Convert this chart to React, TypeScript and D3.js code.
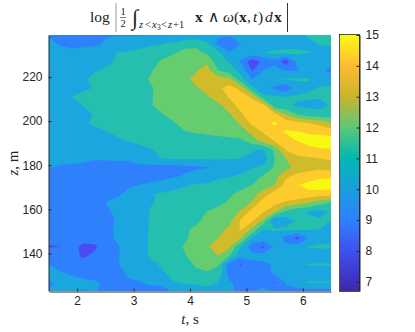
import React, { useRef, useEffect } from 'react';
import * as d3 from 'd3';

// grid of log values, one row per z (top row z = 239, step 4), one column per t (1.5 to 6.5, step 0.2)
const tStart = 1.5;
const tStep = 0.2;
const zStart = 239;
const zStep = 4;
const logMoment = [
  [9.95,9.9,9.9,9.9,9.9,9.95,9.95,9.95,9.95,9.95,9.95,9.95,10.0,10.2,10.3,10.2,10.2,10.3,10.4,10.5,10.5,10.6,10.8,11.1,11.2,11.2],
  [10.2,9.9,9.7,9.7,9.8,10.1,10.3,10.4,10.6,10.8,10.95,11.2,11.7,11.8,11.2,9.7,8.9,10,10.4,10.5,10.5,10.7,10.7,10.8,11.05,11.1],
  [10.3,10.3,10.3,10.4,10.5,10.7,11.0,11.15,11.3,11.5,11.7,11.9,12.2,12.2,11.9,11.2,10.1,10.4,10.7,11.0,11.2,11.2,11.2,11.05,10.8,10.7],
  [10.4,10.4,10.4,10.5,10.6,10.8,11.1,11.3,11.5,11.7,12.1,12.3,12.6,12.6,12.8,11.4,10.9,9.9,8.4,9.2,9.7,8.4,10.3,10.4,10.4,10.4],
  [10.4,10.4,10.5,10.6,10.9,11.1,11.3,11.5,11.7,11.95,12.2,12.4,12.8,12.9,13.4,12,11.5,10.7,8.9,10.0,10.4,9.9,9.9,10.5,10.2,9.7],
  [9.9,10.4,10.5,10.8,11.3,11.4,11.6,11.7,11.85,12.05,12.3,12.5,12.8,13.2,13.5,13.4,13.2,11.3,10,10.3,10.9,11.1,11.1,11.05,10.7,10.5],
  [10.5,10.5,10.6,10.8,11.05,11.2,11.4,11.5,11.7,11.95,12.15,12.4,12.7,12.9,13.3,13.8,14.4,13.6,11.2,10.3,9.8,9.2,10.6,10.9,11.05,11.1],
  [10.3,10.5,11.0,11.3,11.4,11.5,11.6,11.7,11.8,11.95,12.2,12.3,12.5,12.6,12.9,13.4,14.1,14.6,13.8,11.3,11.1,11.0,11.1,11.1,11.1,11.1],
  [10.3,10.4,10.5,11.0,11.2,11.4,11.5,11.65,11.8,11.95,12.2,12.3,12.4,12.4,12.7,12.8,13.5,14.4,14.6,14.4,11.4,11.1,10.9,10.8,10.7,11.1],
  [10.3,10.4,10.5,10.7,11.05,11.3,11.4,11.5,11.6,11.8,11.97,12.15,12.25,12.3,12.4,12.5,12.9,13.8,14.7,14.9,14.4,13,12,11.5,11.4,11.3],
  [10.2,10.3,10.4,10.8,11.2,11.3,11.4,11.45,11.5,11.65,11.8,11.95,12.15,12.2,12.25,12.25,12.5,13.1,14.2,14.8,15.1,14.7,14.4,14.05,13.7,13],
  [10.1,10.2,10.3,10.4,10.6,10.95,11.2,11.3,11.4,11.5,11.6,11.8,11.97,12.05,12.1,12.15,12.2,12.5,13.3,14.1,14.7,15.1,15.05,14.9,14.8,14.7],
  [10.2,10.2,10.2,10.2,10.3,10.5,10.8,11.05,11.2,11.3,11.4,11.5,11.6,11.7,11.75,11.8,11.85,11.8,12.4,13.4,14.05,14.6,15,15.3,15.4,15.4],
  [10.1,10.1,10.1,10.1,10.2,10.3,10.4,10.5,10.7,10.97,11.1,11.2,11.3,11.35,11.4,11.4,11.4,11.3,11.1,10.9,12.2,14.05,14.35,14.75,14.9,14.95],
  [10.3,10.3,10.3,10.25,10.1,10.15,10.2,10.2,10.7,10.95,11.0,11.05,11.1,11.1,11.1,11.1,11.05,11.0,10.7,10.5,12,13,13.8,13.85,14,14.1],
  [10.05,9.9,9.8,9.7,9.6,9.5,9.4,9.5,9.6,9.6,9.6,9.6,9.75,9.85,9.95,10.2,10.4,10.7,10.95,11.2,12.1,12.7,13.3,13.6,13.7,13.6],
  [9.7,9.6,9.6,9.5,9.5,9.3,9.2,9.5,9.5,9.5,9.7,9.85,10.1,10.4,10.6,10.9,10.95,11.1,11.5,12.1,12.6,13.8,14.3,14.5,14.8,14.8],
  [9.6,9.5,9.5,9.5,9.4,9.4,9.5,9.9,10,10.2,10.4,10.7,10.9,11.1,11.1,11.2,11.4,11.7,12.0,12.5,13,14.4,14.95,15.3,15.5,15.5],
  [9.5,9.5,9.5,9.5,9.5,9.6,9.8,10.2,10.6,10.95,11.1,11.2,11.3,11.4,11.5,11.7,11.9,12.2,12.6,13.4,14.5,14.95,14.9,14.7,14.6,14.5],
  [9.6,9.5,9.5,9.5,9.7,10.0,10.3,10.5,10.7,10.95,11.1,11.2,11.3,11.4,11.6,11.85,12.1,12.4,13.1,14.6,14.3,13.8,13.4,13,12.4,12],
  [9.6,9.6,9.7,10.0,9.9,9.7,10.3,10.5,10.7,11.05,11.2,11.3,11.4,11.7,12.0,12.2,12.4,13.1,14.4,14.1,13.2,11.8,11.3,10.9,10.7,11.1],
  [9.5,9.5,9.5,9.5,9.5,9.6,10.1,10.4,10.7,11.05,11.3,11.4,11.6,11.85,12.2,12.4,12.7,14.1,14.2,12.8,9.9,10.5,11.1,11.2,11.1,11.0],
  [9.5,9.4,9.4,9.5,9.5,9.8,10.1,10.3,10.6,11.1,11.3,11.5,11.9,12.1,12.4,12.7,13.2,14.1,12.8,11,11.05,11.2,11.2,11.1,11.0,10.8],
  [9.3,9.4,9.5,9.5,9.5,9.7,10.1,10.4,10.7,11.1,11.4,11.6,11.9,12.2,12.5,13,13.6,13.1,10.9,10.6,10.8,9.6,8.7,10,10.6,10.5],
  [8.9,9.0,9.5,8.7,8.8,9.5,9.9,10.3,10.7,11.1,11.5,11.8,12.05,12.4,12.9,13.4,13.2,11.0,9.4,8.8,10.2,10.3,10.5,11.05,11.2,11.2],
  [9.6,9.6,9.5,8.8,9.2,9.6,9.9,10.3,10.7,11.1,11.4,11.7,11.95,12.2,12.6,13.0,12,10.3,10.3,10.4,10.5,10.3,10.2,10.2,10.2,10.2],
  [10.0,9.6,9.5,9.5,9.0,9.6,9.95,10.2,10.5,10.8,11.1,11.4,11.7,12.1,12.2,12.1,9.4,8.95,9.7,9.8,10.1,10.3,10.8,11.1,11.1,11.1],
  [10.6,10.1,9.9,9.7,9.6,9.6,9.7,10.1,10.4,10.6,10.9,11.2,11.5,11.8,11.95,11.6,9.5,9.2,9.7,9.8,10.1,10.2,10.2,10.2,10.2,10.2],
  [9.9,10.2,10.3,10.2,10.1,9.9,9.8,9.9,9.95,10.3,10.7,10.95,11.1,11.1,11.2,11.05,10.1,9.7,9.7,9.6,8.9,10.1,10.6,11.1,11.1,11.1],
  [10.0,10.1,10.1,9.95,10.05,9.9,9.9,9.8,9.7,9.5,9.0,10.3,10.6,10.7,10.8,10.6,10.1,9.9,10.0,10.2,9.8,9.8,9.7,9.7,9.7,9.7],
];

const levels = [8, 9, 10, 11, 12, 13, 14, 15];
const levelColors = ['#4a4cf0', '#2f80fd', '#1ca6df', '#25bfb0', '#66cc70', '#d2bb2b', '#fdcb2c', '#f8f810'];
const baseColor = '#3d2db5';

const barValues = [6.7, 7, 8, 9, 10, 11, 12, 13, 14, 15];
const barColors = ['#3e2a9e', '#3e30c0', '#3f50f0', '#2f80ff', '#1a9fdc', '#00b8b2', '#5cc878', '#c8b52c', '#ffbb30', '#f9fb14'];

const xTicks = [2, 3, 4, 5, 6];
const yTicks = [140, 160, 180, 200, 220];
const barTicks = [7, 8, 9, 10, 11, 12, 13, 14, 15];

const WIDTH = 415;
const HEIGHT = 332;
const PLOT = { left: 49, right: 331, top: 35, bottom: 291 };
const BAR = { left: 340, right: 360 };
const tickFont = '"Liberation Sans", Arial, sans-serif';
const mathFont = '"Liberation Serif", "DejaVu Serif", serif';
const tickColor = '#262626';

const App = () => {
  const svgRef = useRef<SVGSVGElement | null>(null);

  useEffect(() => {
    if (!svgRef.current) return;
    const svg = d3.select(svgRef.current);
    svg.selectAll('*').remove();

    const cols = logMoment[0].length;
    const rows = logMoment.length;
    const x = d3.scaleLinear().domain([tStart, tStart + tStep * (cols - 1)]).range([PLOT.left, PLOT.right]);
    const y = d3.scaleLinear().domain([zStart - zStep * (rows - 1), zStart]).range([PLOT.bottom, PLOT.top]);

    svg.append('defs').append('clipPath').attr('id', 'plot-clip')
      .append('rect')
      .attr('x', PLOT.left).attr('y', PLOT.top)
      .attr('width', PLOT.right - PLOT.left).attr('height', PLOT.bottom - PLOT.top);

    // filled contours, lowest level first
    const contours = d3.contours().size([cols, rows]).thresholds(levels)(logMoment.flat());
    const project = d3.geoTransform({
      point(px, py) {
        // d3 puts a grid value at index + 0.5
        (this as any).stream.point(x(tStart + (px - 0.5) * tStep), y(zStart - (py - 0.5) * zStep));
      },
    });
    const path = d3.geoPath(project);

    const plot = svg.append('g').attr('clip-path', 'url(#plot-clip)');
    plot.append('rect')
      .attr('x', PLOT.left).attr('y', PLOT.top)
      .attr('width', PLOT.right - PLOT.left).attr('height', PLOT.bottom - PLOT.top)
      .attr('fill', baseColor);
    plot.selectAll('path.level')
      .data(contours)
      .enter()
      .append('path')
      .attr('class', 'level')
      .attr('d', d => path(d as any))
      .attr('fill', (d, i) => levelColors[i]);

    // axes
    const styleAxis = (g: any) => {
      g.selectAll('.domain').attr('stroke', tickColor).attr('stroke-width', 1);
      g.selectAll('.tick line').attr('stroke', tickColor);
      g.selectAll('.tick text')
        .attr('font-family', tickFont)
        .attr('font-size', 12)
        .attr('fill', tickColor);
    };
    svg.append('g')
      .attr('transform', `translate(${PLOT.left - 0.5},0)`)
      .call(d3.axisLeft(y).tickValues(yTicks).tickSizeInner(-3).tickSizeOuter(0).tickPadding(6))
      .call(styleAxis);
    svg.append('g')
      .attr('transform', `translate(0,${PLOT.bottom + 0.5})`)
      .call(d3.axisBottom(x).tickValues(xTicks).tickFormat(d3.format('d') as any).tickSizeInner(-3).tickSizeOuter(0).tickPadding(5))
      .call(styleAxis);

    // colorbar
    const barY = d3.scaleLinear().domain([6.7, 15]).range([PLOT.bottom, PLOT.top]);
    const gradient = svg.select('defs').append('linearGradient')
      .attr('id', 'bar-gradient')
      .attr('x1', 0).attr('y1', 1).attr('x2', 0).attr('y2', 0);
    barValues.forEach((v, i) => {
      gradient.append('stop')
        .attr('offset', (v - 6.7) / (15 - 6.7))
        .attr('stop-color', barColors[i]);
    });
    svg.append('rect')
      .attr('x', BAR.left).attr('y', PLOT.top)
      .attr('width', BAR.right - BAR.left).attr('height', PLOT.bottom - PLOT.top)
      .attr('fill', 'url(#bar-gradient)');
    svg.append('g')
      .attr('transform', `translate(${BAR.right - 0.5},0)`)
      .call(d3.axisRight(barY).tickValues(barTicks).tickFormat(d3.format('d') as any).tickSizeInner(-3).tickSizeOuter(0).tickPadding(6))
      .call(styleAxis);
    svg.append('rect')
      .attr('x', BAR.left - 0.5).attr('y', PLOT.top - 0.5)
      .attr('width', BAR.right - BAR.left).attr('height', PLOT.bottom - PLOT.top + 1)
      .attr('fill', 'none').attr('stroke', tickColor).attr('stroke-width', 0.8);

    // axis labels
    const xLabel = svg.append('text')
      .attr('x', 190).attr('y', 324).attr('text-anchor', 'middle')
      .attr('font-family', mathFont).attr('font-size', 15).attr('fill', '#222');
    xLabel.append('tspan').attr('font-style', 'italic').text('t');
    xLabel.append('tspan').text(', s');
    const yLabel = svg.append('text')
      .attr('transform', 'translate(18,163) rotate(-90)').attr('text-anchor', 'middle')
      .attr('font-family', mathFont).attr('font-size', 15).attr('fill', '#222');
    yLabel.append('tspan').attr('font-style', 'italic').text('z');
    yLabel.append('tspan').text(', m');

    // title, set piece by piece
    const title = svg.append('g').attr('font-family', mathFont).attr('fill', '#222');
    const put = (tx: number, ty: number, size: number, s: string, extra: Record<string, string> = {}) => {
      const t = title.append('text').attr('x', tx).attr('y', ty).attr('font-size', size).text(s);
      Object.entries(extra).forEach(([k, v]) => t.attr(k, v));
    };
    const bold = { 'font-weight': 'bold' };
    const italic = { 'font-style': 'italic' };
    put(90, 22, 15.5, 'log');
    title.append('line').attr('x1', 116).attr('x2', 116).attr('y1', 3).attr('y2', 32).attr('stroke', '#999').attr('stroke-width', 1);
    put(120.5, 15, 10.5, '1');
    title.append('line').attr('x1', 120).attr('x2', 126).attr('y1', 17.5).attr('y2', 17.5).attr('stroke', '#444').attr('stroke-width', 0.7);
    put(120.5, 27, 10.5, '2');
    put(132, 25, 22, '∫', italic);
    put(139, 28, 10.5, 'z', italic);
    put(145, 28, 10.5, '<');
    put(152, 28, 10.5, 'x', italic);
    put(157, 30, 7.5, '3');
    put(161, 28, 10.5, '<');
    put(168, 28, 10.5, 'z', italic);
    put(173, 28, 10.5, '+1');
    put(195, 22, 15.5, 'x', bold);
    put(208, 22, 15.5, '∧');
    put(223, 22, 15.5, 'ω', italic);
    put(234, 22, 15.5, '(');
    put(239, 22, 15.5, 'x', bold);
    put(247, 22, 15.5, ',');
    put(253, 22, 15.5, 't', italic);
    put(258, 22, 15.5, ')');
    put(265, 22, 15.5, 'd', italic);
    put(274, 22, 15.5, 'x', bold);
    title.append('line').attr('x1', 287.5).attr('x2', 287.5).attr('y1', 3).attr('y2', 32).attr('stroke', '#333').attr('stroke-width', 1);
  }, []);

  return <svg ref={svgRef} width={WIDTH} height={HEIGHT} style={{ position: 'absolute', left: 0, top: 0, background: '#fff' }} />;
};

export default App;
